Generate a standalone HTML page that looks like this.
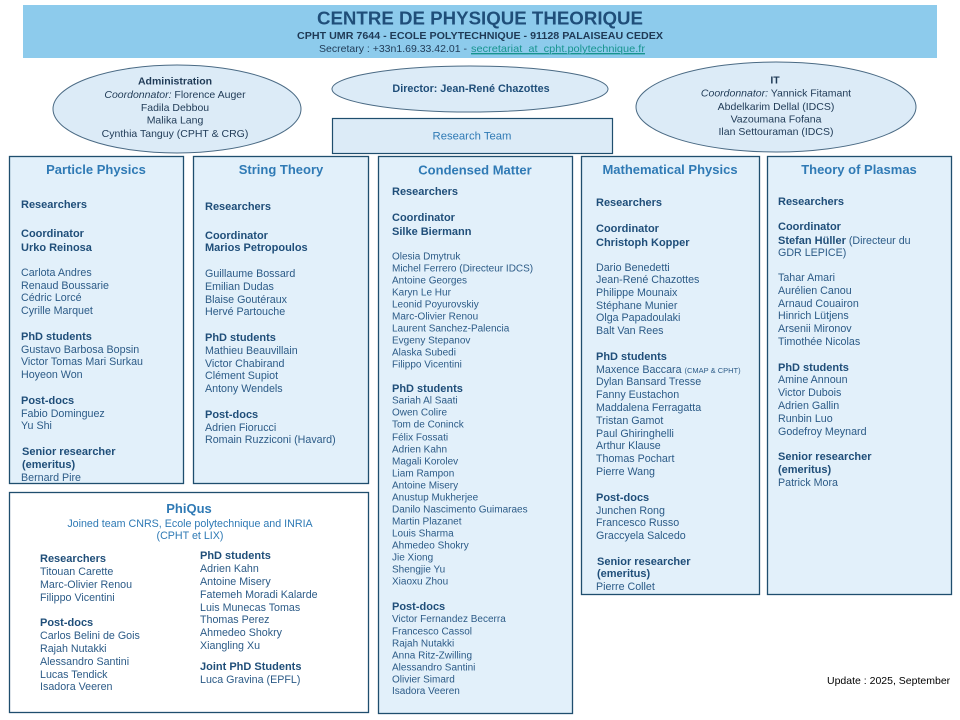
<!DOCTYPE html>
<html><head><meta charset="utf-8"><style>
html,body{margin:0;padding:0;background:#fff;width:960px;height:720px;overflow:hidden}
svg{display:block;white-space:pre}
text{font-family:"Liberation Sans",Arial,sans-serif}
.h{font-size:13px;font-weight:bold;fill:#2f7ab5;text-anchor:middle}
.l{font-size:11px;font-weight:bold;fill:#1f4e79}
.n{font-size:10.7px;fill:#2c5b87}
.s{font-size:10px;fill:#2c5b87}
.e{font-size:10.5px;fill:#1f3a56;text-anchor:middle}
.box{fill:#e2f0fa;stroke:#1f4e6e;stroke-width:1.3}
.ell{fill:#dcebf7;stroke:#4a6a84;stroke-width:1}
</style></head><body>
<svg width="960" height="720" viewBox="0 0 960 720" xmlns="http://www.w3.org/2000/svg">
<!-- header -->
<rect x="23" y="5" width="914" height="53" fill="#8dcbec"/>
<text x="480" y="24.5" text-anchor="middle" style="font-size:18.7px;font-weight:bold;fill:#1f4e79">CENTRE DE PHYSIQUE THEORIQUE</text>
<text x="480" y="39" text-anchor="middle" textLength="366" lengthAdjust="spacingAndGlyphs" style="font-size:10.5px;font-weight:bold;fill:#1f3a56">CPHT UMR 7644 - ECOLE POLYTECHNIQUE  - 91128 PALAISEAU CEDEX</text>
<text x="467" y="52" text-anchor="end" style="font-size:10.5px;fill:#1f3a56">Secretary : +33n1.69.33.42.01 -</text>
<text x="471" y="52" textLength="174" lengthAdjust="spacingAndGlyphs" style="font-size:10.5px;fill:#17948f;text-decoration:underline">secretariat_at_cpht.polytechnique.fr</text>
<line x1="471" y1="54" x2="645" y2="54" stroke="#17948f" stroke-width="0.8"/>

<!-- ellipses -->
<ellipse class="ell" cx="177" cy="109" rx="124" ry="44"/>
<ellipse class="ell" cx="470" cy="89" rx="138" ry="23"/>
<ellipse class="ell" cx="776" cy="107" rx="140" ry="45"/>
<rect x="332.5" y="118.5" width="280" height="35" fill="#dcebf7" stroke="#1f4e6e" stroke-width="1.2"/>

<text class="e" x="175" y="84.5" style="font-weight:bold">Administration</text>
<text class="e" x="175" y="98"><tspan font-style="italic">Coordonnator:</tspan> Florence Auger</text>
<text class="e" x="175" y="111">Fadila  Debbou</text>
<text class="e" x="175" y="123.5">Malika  Lang</text>
<text class="e" x="175" y="137">Cynthia Tanguy (CPHT  &amp; CRG)</text>

<text class="e" x="471" y="92" style="font-size:10.8px;font-weight:bold;fill:#1f4e79">Director: Jean-René Chazottes</text>
<text x="472" y="139.5" text-anchor="middle" style="font-size:11.3px;fill:#2f7ab5">Research Team</text>

<text class="e" x="775" y="83.5" style="font-weight:bold">IT</text>
<text class="e" x="776" y="96.5"><tspan font-style="italic">Coordonnator:</tspan> Yannick Fitamant</text>
<text class="e" x="776" y="110">Abdelkarim Dellal  (IDCS)</text>
<text class="e" x="776" y="122.5">Vazoumana Fofana</text>
<text class="e" x="776" y="135">Ilan  Settouraman  (IDCS)</text>

<!-- boxes -->
<rect class="box" x="9.5" y="156.5" width="174" height="327"/>
<rect class="box" x="193.5" y="156.5" width="175" height="327"/>
<rect class="box" x="378.5" y="156.5" width="194" height="557"/>
<rect class="box" x="581.5" y="156.5" width="178" height="438"/>
<rect class="box" x="767.5" y="156.5" width="184" height="438"/>
<rect x="9.5" y="492.5" width="359" height="220" fill="#ffffff" stroke="#1f4e6e" stroke-width="1.3"/>

<!-- Particle Physics -->
<text class="h" x="96" y="174">Particle Physics</text>
<text class="l" x="21" y="208">Researchers</text>
<text class="l" x="21" y="237">Coordinator</text>
<text class="l" x="21" y="251">Urko Reinosa</text>
<text class="n" x="21" y="276">Carlota Andres</text>
<text class="n" x="21" y="289">Renaud  Boussarie</text>
<text class="n" x="21" y="301">Cédric Lorcé</text>
<text class="n" x="21" y="314">Cyrille Marquet</text>
<text class="l" x="21" y="340">PhD students</text>
<text class="n" x="21" y="353">Gustavo Barbosa Bopsin</text>
<text class="n" x="21" y="365">Victor Tomas Mari Surkau</text>
<text class="n" x="21" y="378">Hoyeon Won</text>
<text class="l" x="21" y="404">Post-docs</text>
<text class="n" x="21" y="417">Fabio  Dominguez</text>
<text class="n" x="21" y="429">Yu Shi</text>
<text class="l" x="22" y="455">Senior researcher</text>
<text class="l" x="22" y="468">(emeritus)</text>
<text class="n" x="21" y="481">Bernard Pire</text>

<!-- String Theory -->
<text class="h" x="281" y="174">String Theory</text>
<text class="l" x="205" y="210">Researchers</text>
<text class="l" x="205" y="239">Coordinator</text>
<text class="l" x="205" y="251">Marios Petropoulos</text>
<text class="n" x="205" y="277">Guillaume  Bossard</text>
<text class="n" x="205" y="290">Emilian  Dudas</text>
<text class="n" x="205" y="303">Blaise Goutéraux</text>
<text class="n" x="205" y="315">Hervé Partouche</text>
<text class="l" x="205" y="341">PhD students</text>
<text class="n" x="205" y="354">Mathieu  Beauvillain</text>
<text class="n" x="205" y="367">Victor Chabirand</text>
<text class="n" x="205" y="379">Clément  Supiot</text>
<text class="n" x="205" y="392">Antony Wendels</text>
<text class="l" x="205" y="418">Post-docs</text>
<text class="n" x="205" y="431">Adrien Fiorucci</text>
<text class="n" x="205" y="443">Romain  Ruzziconi (Havard)</text>

<!-- Condensed Matter -->
<text class="h" x="475" y="174.5">Condensed Matter</text>
<text class="l" x="392" y="195">Researchers</text>
<text class="l" x="392" y="221">Coordinator</text>
<text class="l" x="392" y="235">Silke Biermann</text>
<text class="s" x="392" y="259.5">Olesia Dmytruk</text>
<text class="s" x="392" y="271.5">Michel Ferrero (Directeur IDCS)</text>
<text class="s" x="392" y="283.5">Antoine Georges</text>
<text class="s" x="392" y="295.5">Karyn Le Hur</text>
<text class="s" x="392" y="307.5">Leonid Poyurovskiy</text>
<text class="s" x="392" y="319.5">Marc-Olivier Renou</text>
<text class="s" x="392" y="331.5">Laurent Sanchez-Palencia</text>
<text class="s" x="392" y="343.5">Evgeny Stepanov</text>
<text class="s" x="392" y="355.5">Alaska Subedi</text>
<text class="s" x="392" y="367.5">Filippo Vicentini</text>
<text class="l" x="392" y="392">PhD students</text>
<text class="s" x="392" y="403.5">Sariah Al Saati</text>
<text class="s" x="392" y="415.5">Owen Colire</text>
<text class="s" x="392" y="427.5">Tom de Coninck</text>
<text class="s" x="392" y="440.5">Félix Fossati</text>
<text class="s" x="392" y="452.5">Adrien Kahn</text>
<text class="s" x="392" y="464.5">Magali Korolev</text>
<text class="s" x="392" y="476.5">Liam Rampon</text>
<text class="s" x="392" y="488.5">Antoine Misery</text>
<text class="s" x="392" y="500.5">Anustup Mukherjee</text>
<text class="s" x="392" y="512.5">Danilo Nascimento Guimaraes</text>
<text class="s" x="392" y="524.5">Martin Plazanet</text>
<text class="s" x="392" y="536.5">Louis Sharma</text>
<text class="s" x="392" y="548.5">Ahmedeo Shokry</text>
<text class="s" x="392" y="560.5">Jie Xiong</text>
<text class="s" x="392" y="572.5">Shengjie Yu</text>
<text class="s" x="392" y="584.5">Xiaoxu Zhou</text>
<text class="l" x="392" y="610">Post-docs</text>
<text class="s" x="392" y="622">Victor Fernandez Becerra</text>
<text class="s" x="392" y="634.5">Francesco Cassol</text>
<text class="s" x="392" y="646.5">Rajah Nutakki</text>
<text class="s" x="392" y="658.5">Anna Ritz-Zwilling</text>
<text class="s" x="392" y="670.5">Alessandro Santini</text>
<text class="s" x="392" y="682.5">Olivier Simard</text>
<text class="s" x="392" y="694">Isadora Veeren</text>

<!-- Mathematical Physics -->
<text class="h" x="670" y="174">Mathematical Physics</text>
<text class="l" x="596" y="206">Researchers</text>
<text class="l" x="596" y="232">Coordinator</text>
<text class="l" x="596" y="246">Christoph Kopper</text>
<text class="n" x="596" y="271">Dario Benedetti</text>
<text class="n" x="596" y="283">Jean-René Chazottes</text>
<text class="n" x="596" y="296">Philippe  Mounaix</text>
<text class="n" x="596" y="309">Stéphane Munier</text>
<text class="n" x="596" y="321">Olga  Papadoulaki</text>
<text class="n" x="596" y="334">Balt Van Rees</text>
<text class="l" x="596" y="360">PhD students</text>
<text class="n" x="596" y="373">Maxence Baccara <tspan style="font-size:7.5px">(CMAP &amp; CPHT)</tspan></text>
<text class="n" x="596" y="385">Dylan Bansard Tresse</text>
<text class="n" x="596" y="398">Fanny Eustachon</text>
<text class="n" x="596" y="411">Maddalena  Ferragatta</text>
<text class="n" x="596" y="424">Tristan Gamot</text>
<text class="n" x="596" y="437">Paul Ghiringhelli</text>
<text class="n" x="596" y="449">Arthur Klause</text>
<text class="n" x="596" y="462">Thomas  Pochart</text>
<text class="n" x="596" y="475">Pierre Wang</text>
<text class="l" x="596" y="501">Post-docs</text>
<text class="n" x="596" y="514">Junchen Rong</text>
<text class="n" x="596" y="526">Francesco Russo</text>
<text class="n" x="596" y="539">Graccyela Salcedo</text>
<text class="l" x="597" y="565">Senior researcher</text>
<text class="l" x="597" y="577">(emeritus)</text>
<text class="n" x="596" y="590">Pierre Collet</text>

<!-- Theory of Plasmas -->
<text class="h" x="859" y="174">Theory of Plasmas</text>
<text class="l" x="778" y="205">Researchers</text>
<text class="l" x="778" y="230">Coordinator</text>
<text class="n" x="778" y="244"><tspan style="font-weight:bold;fill:#1f4e79;font-size:11px">Stefan Hüller</tspan> (Directeur du</text>
<text class="n" x="778" y="256">GDR  LEPICE)</text>
<text class="n" x="778" y="281">Tahar Amari</text>
<text class="n" x="778" y="294">Aurélien Canou</text>
<text class="n" x="778" y="307">Arnaud Couairon</text>
<text class="n" x="778" y="319">Hinrich Lütjens</text>
<text class="n" x="778" y="332">Arsenii Mironov</text>
<text class="n" x="778" y="345">Timothée  Nicolas</text>
<text class="l" x="778" y="371">PhD students</text>
<text class="n" x="778" y="383">Amine Announ</text>
<text class="n" x="778" y="396">Victor Dubois</text>
<text class="n" x="778" y="409">Adrien Gallin</text>
<text class="n" x="778" y="422">Runbin  Luo</text>
<text class="n" x="778" y="435">Godefroy Meynard</text>
<text class="l" x="778" y="460">Senior researcher</text>
<text class="l" x="778" y="473">(emeritus)</text>
<text class="n" x="778" y="486">Patrick Mora</text>

<!-- PhiQus -->
<text class="h" x="189" y="513">PhiQus</text>
<text x="190" y="527" text-anchor="middle" style="font-size:10.7px;fill:#2f7ab5">Joined team CNRS,  Ecole polytechnique and INRIA</text>
<text x="190" y="539" text-anchor="middle" style="font-size:10.7px;fill:#2f7ab5">(CPHT  et LIX)</text>
<text class="l" x="40" y="562">Researchers</text>
<text class="n" x="40" y="575">Titouan  Carette</text>
<text class="n" x="40" y="588">Marc-Olivier Renou</text>
<text class="n" x="40" y="601">Filippo  Vicentini</text>
<text class="l" x="40" y="626">Post-docs</text>
<text class="n" x="40" y="639">Carlos Belini de Gois</text>
<text class="n" x="40" y="652">Rajah  Nutakki</text>
<text class="n" x="40" y="665">Alessandro Santini</text>
<text class="n" x="40" y="678">Lucas Tendick</text>
<text class="n" x="40" y="690">Isadora Veeren</text>
<text class="l" x="200" y="559">PhD students</text>
<text class="n" x="200" y="572">Adrien Kahn</text>
<text class="n" x="200" y="585">Antoine Misery</text>
<text class="n" x="200" y="598">Fatemeh  Moradi  Kalarde</text>
<text class="n" x="200" y="611">Luis Munecas Tomas</text>
<text class="n" x="200" y="623">Thomas  Perez</text>
<text class="n" x="200" y="636">Ahmedeo  Shokry</text>
<text class="n" x="200" y="649">Xiangling  Xu</text>
<text class="l" x="200" y="670">Joint PhD Students</text>
<text class="n" x="200" y="683">Luca Gravina (EPFL)</text>

<!-- update -->
<text x="827" y="684" style="font-size:10.5px;fill:#000">Update : 2025, September</text>
</svg>
</body></html>
